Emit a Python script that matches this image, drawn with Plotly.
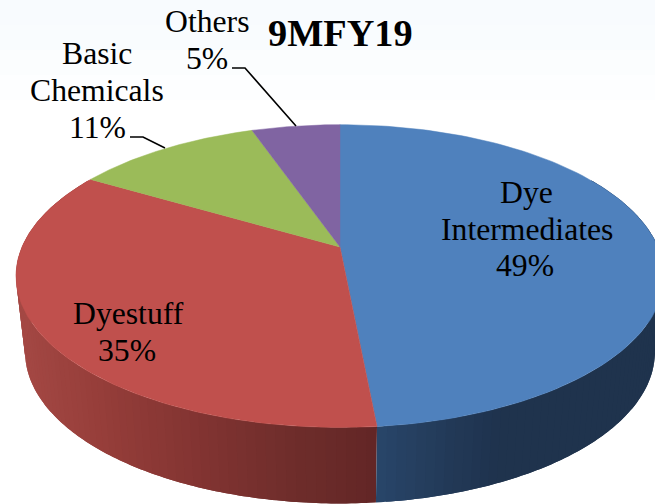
import numpy as np
import plotly.graph_objects as go

categories = ["Dye Intermediates", "Dyestuff", "Basic Chemicals", "Others"]
shares = [48.5, 35.0, 11.2, 5.3]
colors = ["#4F81BD", "#C0504D", "#9BBB59", "#8064A2"]

W, H = 655, 504
CX, CY, R, S, K = 340, 247, 318, 145.8, 0.192
CY2, R2 = 323, 309

wall_x = {0: [378, 450, 500, 660], 1: [20, 100, 200, 300, 378]}
wall_rgb = {0: [(41, 70, 106), (35, 58, 88), (31, 51, 78), (31, 51, 77)],
            1: [(164, 72, 68), (150, 62, 58), (130, 52, 50), (110, 45, 43), (99, 38, 38)]}


def top(t):
    w = 1 - K * (-np.cos(t))
    return CX + R * np.sin(t) / w, CY + S * (-np.cos(t)) / w


def bottom(t):
    w = 1 - K * (-np.cos(t))
    return CX + R2 * np.sin(t) / w, CY2 + S * (-np.cos(t)) / w


fig = go.Figure()
edges = np.radians(np.concatenate([[0], np.cumsum(shares)]) * 3.6)

# side walls: each band overlaps the next one so no seams show
for i in (1, 0):
    a0, a1 = max(edges[i], np.radians(60)), min(edges[i + 1], np.radians(300))
    steps = np.linspace(a0, a1, int((a1 - a0) / np.radians(1.5)) + 2)
    order = range(len(steps) - 1) if i == 1 else range(len(steps) - 2, -1, -1)
    for k in order:
        if i == 1:
            s0, s1 = steps[k], steps[min(k + 2, len(steps) - 1)]
        else:
            s0, s1 = steps[max(k - 1, 0)], steps[k + 1]
        tm, _ = top((steps[k] + steps[k + 1]) / 2)
        rgb = [np.interp(tm, wall_x[i], [c[j] for c in wall_rgb[i]]) for j in range(3)]
        col = "rgb(%d,%d,%d)" % tuple(rgb)
        tt = np.linspace(s0, s1, 5)
        tx, ty = top(tt)
        bx, by = bottom(tt[::-1])
        fig.add_trace(go.Scatter(x=np.r_[tx, bx, tx[0]], y=np.r_[ty, by, ty[0]],
                                 mode="none", fill="toself", fillcolor=col, hoverinfo="skip"))

# top face
for i, name in enumerate(categories):
    t = np.linspace(edges[i], edges[i + 1], 120)
    x, y = top(t)
    fig.add_trace(go.Scatter(x=np.r_[CX, x, CX], y=np.r_[CY, y, CY], mode="lines", fill="toself",
                             fillcolor=colors[i], line=dict(color=colors[i], width=0.5), name=name))

labels = [
    (526, 192, "Dye"), (527, 229, "Intermediates"), (525, 265, "49%"),
    (128, 313, "Dyestuff"), (127, 350, "35%"),
    (97, 53, "Basic"), (97, 90, "Chemicals"), (97, 127, "11%"),
    (207, 21, "Others"), (207, 58, "5%"),
]
annotations = [dict(x=x, y=y, text=t, showarrow=False, xanchor="center", yanchor="middle",
                    font=dict(family="Liberation Serif", size=31.7, color="black"))
               for x, y, t in labels]
annotations.append(dict(x=340, y=33, text="<b>9MFY19</b>", showarrow=False,
                        font=dict(family="Liberation Serif", size=38.3, color="black")))

shapes = [
    dict(type="path", path="M232,68 L245,68 L296,126", line=dict(color="black", width=1.6)),
    dict(type="path", path="M130,137 L143,137 L165,148", line=dict(color="black", width=1.6)),
]
# very faint tint behind the top of the picture
for j, (y0, y1, c) in enumerate([(0, 25, "#F8FBFE"), (25, 50, "#F9FCFE"), (50, 75, "#FBFDFE"), (75, 100, "#FDFEFF")]):
    shapes.append(dict(type="rect", x0=0, x1=W, y0=y0, y1=y1, layer="below", fillcolor=c, line=dict(width=0)))

fig.update_layout(
    width=W, height=H, margin=dict(l=0, r=0, t=0, b=0), showlegend=False,
    paper_bgcolor="white", plot_bgcolor="white",
    xaxis=dict(range=[0, W], visible=False, fixedrange=True),
    yaxis=dict(range=[H, 0], visible=False, fixedrange=True),
    annotations=annotations, shapes=shapes,
)
fig.write_html("out.html", config={"displayModeBar": False},
               post_script="document.body.style.margin='0';document.body.style.background='white';")
